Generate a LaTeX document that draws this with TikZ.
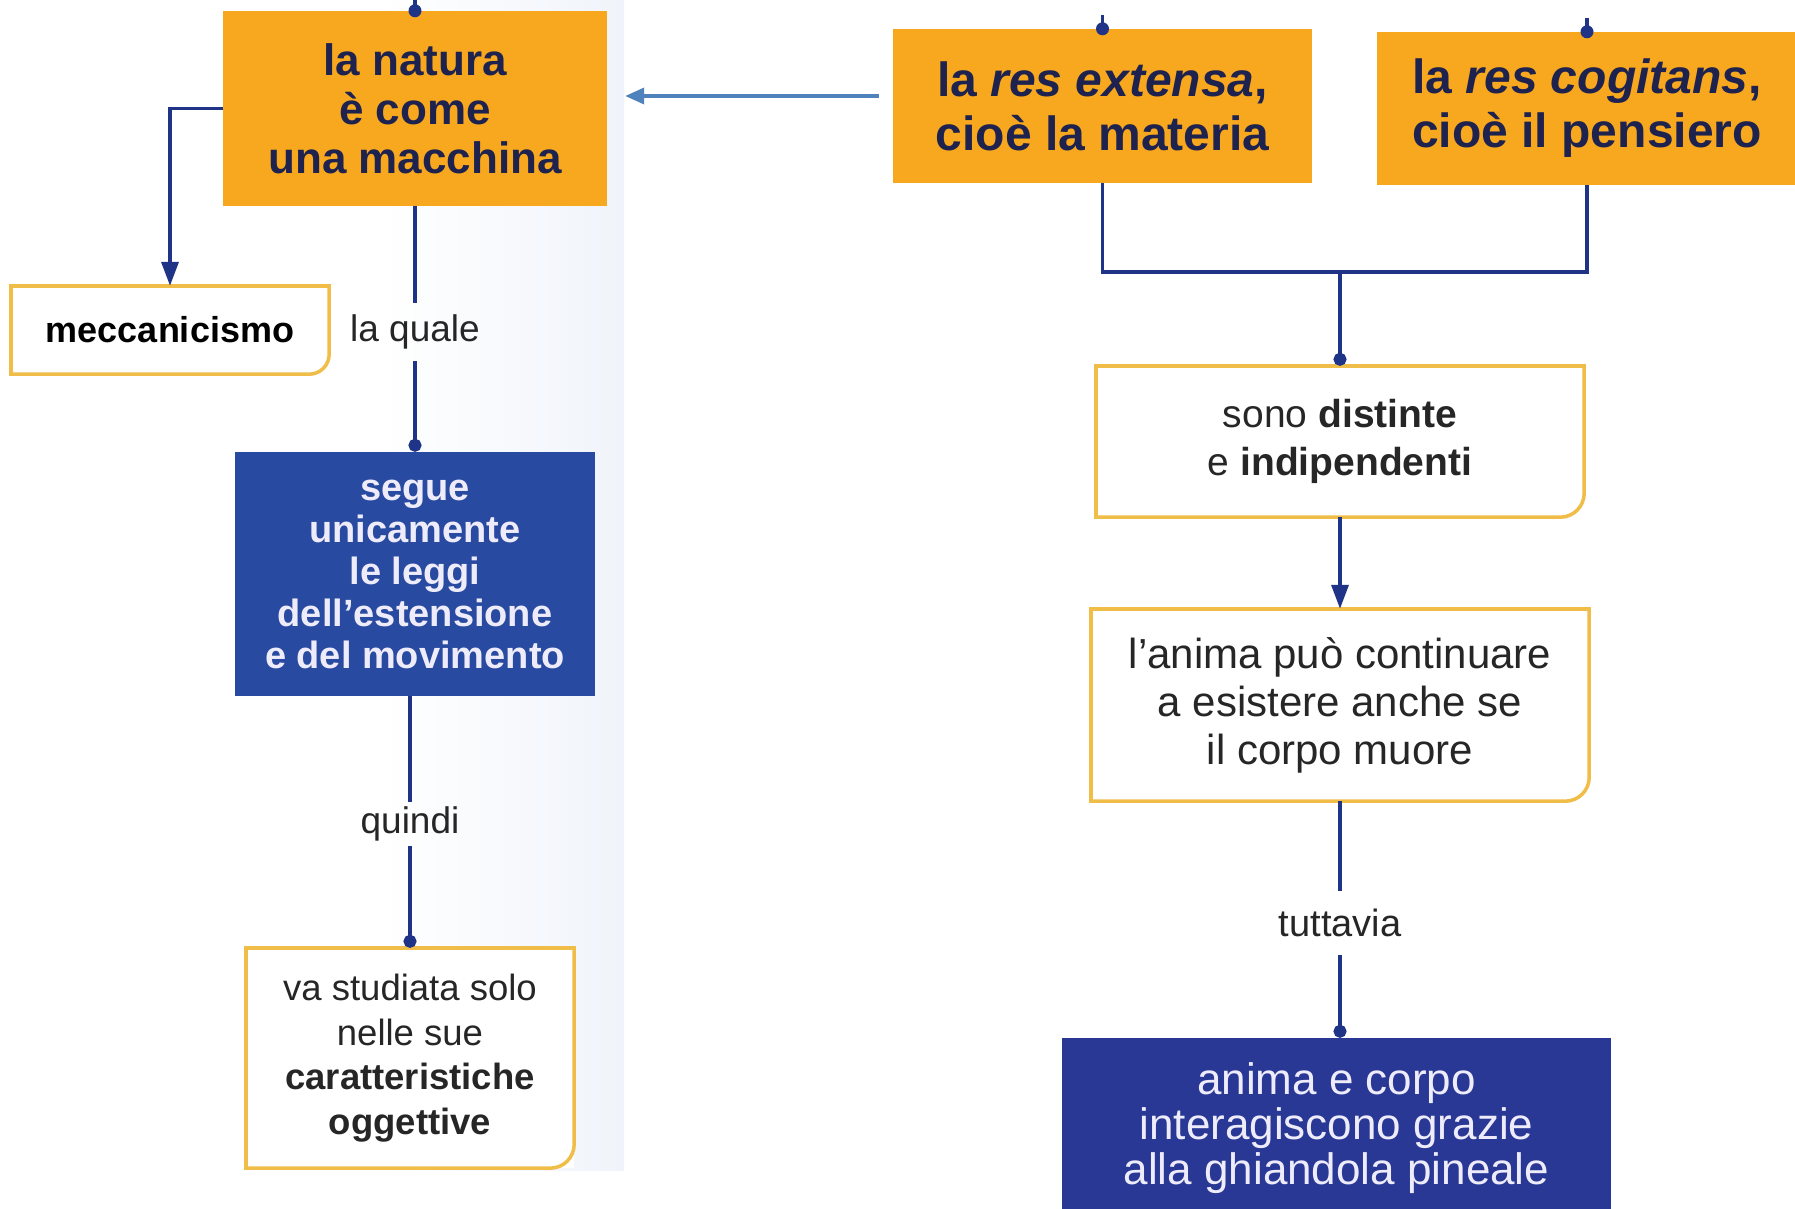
\documentclass[tikz,border=0pt]{standalone}
\usepackage{fontspec}
\setmainfont{Liberation Sans}
\usetikzlibrary{arrows.meta,calc}
\definecolor{orfill}{RGB}{248,168,30}
\definecolor{navyline}{RGB}{32,52,135}
\definecolor{bluebox}{RGB}{40,74,160}
\definecolor{darkbox}{RGB}{40,56,148}
\definecolor{goldline}{RGB}{240,190,72}
\definecolor{darktext}{RGB}{30,34,78}
\definecolor{graytext}{RGB}{38,38,38}
\definecolor{whitetext}{RGB}{238,236,250}
\definecolor{pptblue}{RGB}{79,129,189}
\definecolor{panel}{RGB}{240,244,250}
\tikzset{
  orbox/.style={fill=orfill,draw=none,align=center,text=darktext,inner sep=0pt},
  bluebx/.style={fill=bluebox,draw=none,align=center,text=whitetext,inner sep=0pt},
  whitebx/.style={fill=white,draw=none,align=center,text=graytext,inner sep=0pt},
  conn/.style={draw=navyline,line width=3.5pt},
  dotend/.style={-{Circle[length=13pt]}},
  arrend/.style={-{Triangle[length=24pt,width=17pt]}},
  wline/.style={draw=goldline,line width=3.5pt},
  lbl/.style={text=graytext,inner xsep=2pt,font=\fontsize{37}{42}\selectfont},
  ppt/.style={draw=pptblue,line width=3.5pt,-{Triangle[length=19pt,width=16pt]}}
}
\newcommand\wboxoutline[2]{%
  \draw[wline,line cap=rect] (#1.south west) -- (#1.north west) -- (#1.north east);
  \draw[wline,rounded corners=#2] (#1.north east) -- (#1.south east) -- (#1.south west);}
\begin{document}
\begin{tikzpicture}[x=1pt,y=-1pt]
\useasboundingbox (0,0) rectangle (1795,1209);
\clip (0,0) rectangle (1795,1209);
\fill[white] (0,0) rectangle (1795,1209);
\shade[left color=white,right color=panel] (380,0) rectangle (624,1170);

% left column
\node[orbox,minimum width=384pt,minimum height=195pt,font=\fontsize{44}{49}\selectfont\bfseries] (natura) at (415,108.5) {la natura\\è come\\una macchina};
\node[whitebx,minimum width=318pt,minimum height=88pt,font=\fontsize{36}{42}\selectfont\bfseries,text=black] (mecc) at (170,330) {meccanicismo};
\node[bluebx,minimum width=360pt,minimum height=244pt,font=\fontsize{38}{42}\selectfont\bfseries] (segue) at (415,574) {segue\\unicamente\\le leggi\\dell’estensione\\e del movimento};
\node[whitebx,minimum width=328pt,minimum height=220pt,font=\fontsize{36.5}{44.5}\selectfont] (va) at (410,1058) {va studiata solo\\nelle sue\\\textbf{caratteristiche}\\\textbf{oggettive}};
\node[lbl,inner ysep=12pt] (lq) at (415,332) {la quale};
\node[lbl,inner ysep=5pt] (qd) at (410,824) {quindi};

\wboxoutline{mecc}{20pt}
\wboxoutline{va}{24pt}

% right column
\node[orbox,minimum width=419pt,minimum height=154pt,font=\fontsize{48}{54}\selectfont\bfseries] (ext) at (1102.5,106) {la \textit{res extensa},\\cioè la materia};
\node[orbox,minimum width=420pt,minimum height=153pt,font=\fontsize{48}{54}\selectfont\bfseries] (cog) at (1587,108.5) {la \textit{res cogitans},\\cioè il pensiero};
\node[whitebx,minimum width=488pt,minimum height=151pt,font=\fontsize{39}{48}\selectfont] (sono) at (1340,441.5) {sono \textbf{distinte}\\e \textbf{indipendenti}};
\node[whitebx,minimum width=498pt,minimum height=192pt,font=\fontsize{42}{48}\selectfont,text=black!85] (anima) at (1340,705) {l’anima può continuare\\a esistere anche se\\il corpo muore};
\node[bluebx,fill=darkbox,minimum width=549pt,minimum height=180pt,font=\fontsize{44}{45}\selectfont] (corpo) at (1336.5,1128) {anima e corpo\\interagiscono grazie\\alla ghiandola pineale};
\node[lbl,inner ysep=18pt,font=\fontsize{38}{42}\selectfont] (tv) at (1340,923) {tuttavia};

\wboxoutline{sono}{24pt}
\wboxoutline{anima}{24pt}

% connectors left
\draw[conn] ([yshift=14pt]natura.north) -- (natura.north);
\fill[navyline] (natura.north) circle (6.5pt);
\draw[conn,arrend] (natura.west) -| (mecc.north);
\draw[conn] (natura.south) -- (lq.north);
\draw[conn,dotend] (lq.south) -- (segue.north);
\draw[conn] (segue.south -| qd.north) -- (qd.north);
\draw[conn,dotend] (qd.south) -- (qd.south |- va.north);

% connectors right
\coordinate (j) at (1340,272);
\draw[conn] ([yshift=14pt]ext.north) -- (ext.north);
\fill[navyline] (ext.north) circle (6.5pt);
\draw[conn] ([yshift=14pt]cog.north) -- (cog.north);
\fill[navyline] (cog.north) circle (6.5pt);
\draw[conn] (ext.south) |- (cog.south |- j) -- (cog.south);
\draw[conn,dotend] (j) -- (sono.north);
\draw[conn,arrend] (sono.south) -- (anima.north);
\draw[conn] (anima.south) -- (tv.north);
\draw[conn,dotend] (tv.south) -- (tv.south |- corpo.north);

% presentation arrow
\draw[ppt,shorten <=14pt,shorten >=18pt] ([yshift=10pt]ext.west) -- ([yshift=10pt]ext.west -| natura.east);
\end{tikzpicture}
\end{document}
